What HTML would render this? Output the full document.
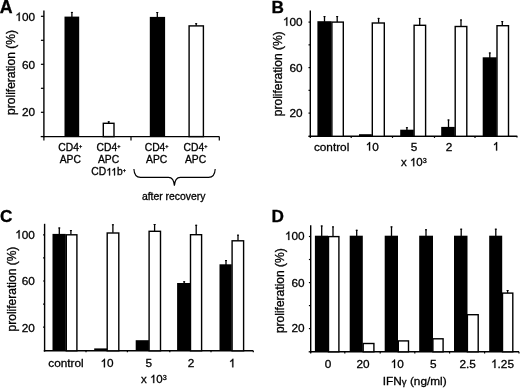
<!DOCTYPE html>
<html><head><meta charset="utf-8"><style>
html,body{margin:0;padding:0;background:#fff;width:520px;height:388px;overflow:hidden}
svg{display:block;will-change:transform}
text{font-family:"Liberation Sans",sans-serif;fill:#000;stroke:#000;stroke-width:0.3px}
.one{fill:none;stroke:none}
</style></head><body>
<svg width="520" height="388" viewBox="0 0 520 388">
<rect width="520" height="388" fill="#fff"/>
<g stroke="#000" fill="none" stroke-linecap="butt">
<line x1="43.90" y1="10.40" x2="43.90" y2="137.30" stroke-width="1.4"/>
<line x1="43.20" y1="136.60" x2="219.30" y2="136.60" stroke-width="1.4"/>
<line x1="40.90" y1="16.30" x2="43.90" y2="16.30" stroke-width="1.2"/>
<line x1="40.90" y1="40.30" x2="43.90" y2="40.30" stroke-width="1.2"/>
<line x1="40.90" y1="64.30" x2="43.90" y2="64.30" stroke-width="1.2"/>
<line x1="40.90" y1="88.30" x2="43.90" y2="88.30" stroke-width="1.2"/>
<line x1="40.90" y1="112.30" x2="43.90" y2="112.30" stroke-width="1.2"/>
<line x1="40.70" y1="136.60" x2="43.90" y2="136.60" stroke-width="1.3"/>
<line x1="43.90" y1="136.60" x2="43.90" y2="140.60" stroke-width="1.2"/>
<line x1="131.00" y1="136.60" x2="131.00" y2="140.60" stroke-width="1.2"/>
<line x1="219.30" y1="136.60" x2="219.30" y2="140.60" stroke-width="1.2"/>
<rect x="64.50" y="16.60" width="14.70" height="120.00" fill="#000" stroke="none"/>
<line x1="71.90" y1="17.30" x2="71.90" y2="11.90" stroke-width="1.3"/>
<line x1="70.90" y1="12.40" x2="72.90" y2="12.40" stroke-width="1.0"/>
<rect x="103.30" y="123.30" width="10.70" height="13.30" fill="#fff" stroke-width="1.4"/>
<line x1="108.70" y1="123.10" x2="108.70" y2="121.30" stroke-width="1.3"/>
<line x1="107.70" y1="121.80" x2="109.70" y2="121.80" stroke-width="1.0"/>
<rect x="149.80" y="16.90" width="15.30" height="119.70" fill="#000" stroke="none"/>
<line x1="157.30" y1="17.60" x2="157.30" y2="12.00" stroke-width="1.3"/>
<line x1="156.30" y1="12.50" x2="158.30" y2="12.50" stroke-width="1.0"/>
<rect x="189.10" y="25.90" width="14.30" height="110.70" fill="#fff" stroke-width="1.4"/>
<line x1="196.20" y1="25.70" x2="196.20" y2="23.20" stroke-width="1.3"/>
<line x1="195.20" y1="23.70" x2="197.20" y2="23.70" stroke-width="1.0"/>
<text x="35.0" y="21.0" font-size="11.8" text-anchor="end" font-weight="normal" ><tspan class="one">1</tspan>00</text>
<text x="35.0" y="68.5" font-size="11.8" text-anchor="end" font-weight="normal" >60</text>
<text x="35.0" y="116.2" font-size="11.8" text-anchor="end" font-weight="normal" >20</text>
<text x="0" y="0" font-size="11.5" text-anchor="middle" font-weight="normal" transform="translate(15.4,72.5) rotate(-90) scale(1.045,1.07)">proliferation (%)</text>
<line x1="310.30" y1="10.50" x2="310.30" y2="137.00" stroke-width="1.4"/>
<line x1="309.60" y1="136.30" x2="517.30" y2="136.30" stroke-width="1.4"/>
<line x1="308.50" y1="22.10" x2="310.30" y2="22.10" stroke-width="1.2"/>
<line x1="308.50" y1="44.85" x2="310.30" y2="44.85" stroke-width="1.2"/>
<line x1="308.50" y1="67.60" x2="310.30" y2="67.60" stroke-width="1.2"/>
<line x1="308.50" y1="90.35" x2="310.30" y2="90.35" stroke-width="1.2"/>
<line x1="308.50" y1="113.10" x2="310.30" y2="113.10" stroke-width="1.2"/>
<line x1="308.30" y1="136.30" x2="310.30" y2="136.30" stroke-width="1.3"/>
<line x1="310.30" y1="136.30" x2="310.30" y2="138.10" stroke-width="1.2"/>
<line x1="351.20" y1="136.30" x2="351.20" y2="137.90" stroke-width="1.2"/>
<line x1="392.50" y1="136.30" x2="392.50" y2="137.90" stroke-width="1.2"/>
<line x1="434.50" y1="136.30" x2="434.50" y2="137.90" stroke-width="1.2"/>
<line x1="475.00" y1="136.30" x2="475.00" y2="137.90" stroke-width="1.2"/>
<line x1="517.00" y1="136.30" x2="517.00" y2="137.50" stroke-width="1.2"/>
<rect x="317.40" y="21.20" width="14.00" height="115.10" fill="#000" stroke="none"/>
<line x1="324.50" y1="21.90" x2="324.50" y2="16.10" stroke-width="1.3"/>
<line x1="323.50" y1="16.60" x2="325.50" y2="16.60" stroke-width="1.0"/>
<rect x="331.90" y="22.10" width="11.40" height="114.20" fill="#fff" stroke-width="1.4"/>
<line x1="337.20" y1="21.90" x2="337.20" y2="16.10" stroke-width="1.3"/>
<line x1="336.20" y1="16.60" x2="338.20" y2="16.60" stroke-width="1.0"/>
<rect x="359.00" y="134.20" width="12.80" height="2.10" fill="#000" stroke="none"/>
<rect x="372.30" y="23.00" width="12.00" height="113.30" fill="#fff" stroke-width="1.4"/>
<line x1="378.60" y1="22.80" x2="378.60" y2="17.90" stroke-width="1.3"/>
<line x1="377.60" y1="18.40" x2="379.60" y2="18.40" stroke-width="1.0"/>
<rect x="400.20" y="129.70" width="13.60" height="6.60" fill="#000" stroke="none"/>
<line x1="406.90" y1="130.40" x2="406.90" y2="127.20" stroke-width="1.3"/>
<line x1="405.90" y1="127.70" x2="407.90" y2="127.70" stroke-width="1.0"/>
<rect x="414.10" y="25.30" width="11.50" height="111.00" fill="#fff" stroke-width="1.4"/>
<line x1="419.70" y1="25.10" x2="419.70" y2="17.90" stroke-width="1.3"/>
<line x1="418.70" y1="18.40" x2="420.70" y2="18.40" stroke-width="1.0"/>
<rect x="441.20" y="126.90" width="13.60" height="9.40" fill="#000" stroke="none"/>
<line x1="448.50" y1="127.60" x2="448.50" y2="119.50" stroke-width="1.3"/>
<line x1="447.50" y1="120.00" x2="449.50" y2="120.00" stroke-width="1.0"/>
<rect x="455.20" y="26.50" width="11.60" height="109.80" fill="#fff" stroke-width="1.4"/>
<line x1="461.00" y1="26.30" x2="461.00" y2="19.50" stroke-width="1.3"/>
<line x1="460.00" y1="20.00" x2="462.00" y2="20.00" stroke-width="1.0"/>
<rect x="482.70" y="57.30" width="14.00" height="79.00" fill="#000" stroke="none"/>
<line x1="489.80" y1="58.00" x2="489.80" y2="52.50" stroke-width="1.3"/>
<line x1="488.80" y1="53.00" x2="490.80" y2="53.00" stroke-width="1.0"/>
<rect x="497.00" y="25.70" width="11.50" height="110.60" fill="#fff" stroke-width="1.4"/>
<line x1="502.30" y1="25.50" x2="502.30" y2="21.10" stroke-width="1.3"/>
<line x1="501.30" y1="21.60" x2="503.30" y2="21.60" stroke-width="1.0"/>
<text x="302.6" y="25.7" font-size="11.8" text-anchor="end" font-weight="normal" ><tspan class="one">1</tspan>00</text>
<text x="302.6" y="71.7" font-size="11.8" text-anchor="end" font-weight="normal" >60</text>
<text x="302.6" y="117.1" font-size="11.8" text-anchor="end" font-weight="normal" >20</text>
<text x="0" y="0" font-size="11.5" text-anchor="middle" font-weight="normal" transform="translate(281.7,73.8) rotate(-90) scale(1.045,1.07)">proliferation (%)</text>
<line x1="44.60" y1="223.80" x2="44.60" y2="351.50" stroke-width="1.4"/>
<line x1="43.90" y1="350.80" x2="253.30" y2="350.80" stroke-width="1.4"/>
<line x1="43.10" y1="234.80" x2="44.60" y2="234.80" stroke-width="1.2"/>
<line x1="43.10" y1="257.90" x2="44.60" y2="257.90" stroke-width="1.2"/>
<line x1="43.10" y1="281.00" x2="44.60" y2="281.00" stroke-width="1.2"/>
<line x1="43.10" y1="304.10" x2="44.60" y2="304.10" stroke-width="1.2"/>
<line x1="43.10" y1="327.20" x2="44.60" y2="327.20" stroke-width="1.2"/>
<line x1="43.80" y1="350.80" x2="44.60" y2="350.80" stroke-width="1.3"/>
<line x1="86.00" y1="350.80" x2="86.00" y2="352.20" stroke-width="1.2"/>
<line x1="127.40" y1="350.80" x2="127.40" y2="352.20" stroke-width="1.2"/>
<line x1="169.80" y1="350.80" x2="169.80" y2="352.20" stroke-width="1.2"/>
<line x1="211.00" y1="350.80" x2="211.00" y2="352.20" stroke-width="1.2"/>
<line x1="253.30" y1="350.80" x2="253.30" y2="352.20" stroke-width="1.2"/>
<rect x="52.50" y="233.90" width="13.30" height="116.90" fill="#000" stroke="none"/>
<line x1="59.30" y1="234.60" x2="59.30" y2="227.50" stroke-width="1.3"/>
<line x1="58.30" y1="228.00" x2="60.30" y2="228.00" stroke-width="1.0"/>
<rect x="66.30" y="234.80" width="10.60" height="116.00" fill="#fff" stroke-width="1.4"/>
<line x1="70.90" y1="234.60" x2="70.90" y2="230.10" stroke-width="1.3"/>
<line x1="69.90" y1="230.60" x2="71.90" y2="230.60" stroke-width="1.0"/>
<rect x="94.20" y="348.40" width="12.80" height="2.40" fill="#000" stroke="none"/>
<rect x="107.20" y="233.00" width="11.60" height="117.80" fill="#fff" stroke-width="1.4"/>
<line x1="112.90" y1="232.80" x2="112.90" y2="224.30" stroke-width="1.3"/>
<line x1="111.90" y1="224.80" x2="113.90" y2="224.80" stroke-width="1.0"/>
<rect x="135.70" y="340.20" width="13.20" height="10.60" fill="#000" stroke="none"/>
<rect x="149.10" y="231.30" width="11.40" height="119.50" fill="#fff" stroke-width="1.4"/>
<line x1="154.60" y1="231.10" x2="154.60" y2="224.00" stroke-width="1.3"/>
<line x1="153.60" y1="224.50" x2="155.60" y2="224.50" stroke-width="1.0"/>
<rect x="177.10" y="283.00" width="13.40" height="67.80" fill="#000" stroke="none"/>
<line x1="184.20" y1="283.70" x2="184.20" y2="281.30" stroke-width="1.3"/>
<line x1="183.20" y1="281.80" x2="185.20" y2="281.80" stroke-width="1.0"/>
<rect x="190.50" y="234.70" width="11.10" height="116.10" fill="#fff" stroke-width="1.4"/>
<line x1="196.20" y1="234.50" x2="196.20" y2="224.80" stroke-width="1.3"/>
<line x1="195.20" y1="225.30" x2="197.20" y2="225.30" stroke-width="1.0"/>
<rect x="219.50" y="264.30" width="12.20" height="86.50" fill="#000" stroke="none"/>
<line x1="226.00" y1="265.00" x2="226.00" y2="260.10" stroke-width="1.3"/>
<line x1="225.00" y1="260.60" x2="227.00" y2="260.60" stroke-width="1.0"/>
<rect x="232.10" y="240.80" width="11.50" height="110.00" fill="#fff" stroke-width="1.4"/>
<line x1="238.00" y1="240.60" x2="238.00" y2="234.70" stroke-width="1.3"/>
<line x1="237.00" y1="235.20" x2="239.00" y2="235.20" stroke-width="1.0"/>
<text x="34.9" y="238.6" font-size="11.8" text-anchor="end" font-weight="normal" ><tspan class="one">1</tspan>00</text>
<text x="34.9" y="285.0" font-size="11.8" text-anchor="end" font-weight="normal" >60</text>
<text x="34.9" y="331.7" font-size="11.8" text-anchor="end" font-weight="normal" >20</text>
<text x="0" y="0" font-size="11.5" text-anchor="middle" font-weight="normal" transform="translate(15.8,289.05) rotate(-90) scale(1.045,1.07)">proliferation (%)</text>
<line x1="310.70" y1="225.20" x2="310.70" y2="352.50" stroke-width="1.4"/>
<line x1="310.00" y1="351.80" x2="519.00" y2="351.80" stroke-width="1.4"/>
<line x1="308.90" y1="236.50" x2="310.70" y2="236.50" stroke-width="1.2"/>
<line x1="308.90" y1="259.50" x2="310.70" y2="259.50" stroke-width="1.2"/>
<line x1="308.90" y1="282.60" x2="310.70" y2="282.60" stroke-width="1.2"/>
<line x1="308.90" y1="305.60" x2="310.70" y2="305.60" stroke-width="1.2"/>
<line x1="308.90" y1="328.60" x2="310.70" y2="328.60" stroke-width="1.2"/>
<line x1="308.70" y1="351.80" x2="310.70" y2="351.80" stroke-width="1.3"/>
<line x1="310.70" y1="351.80" x2="310.70" y2="353.60" stroke-width="1.2"/>
<line x1="344.80" y1="351.80" x2="344.80" y2="353.40" stroke-width="1.2"/>
<line x1="380.20" y1="351.80" x2="380.20" y2="353.40" stroke-width="1.2"/>
<line x1="414.80" y1="351.80" x2="414.80" y2="353.40" stroke-width="1.2"/>
<line x1="449.60" y1="351.80" x2="449.60" y2="353.40" stroke-width="1.2"/>
<line x1="484.60" y1="351.80" x2="484.60" y2="353.40" stroke-width="1.2"/>
<line x1="519.00" y1="351.80" x2="519.00" y2="353.40" stroke-width="1.2"/>
<rect x="314.90" y="235.70" width="13.10" height="116.10" fill="#000" stroke="none"/>
<line x1="321.70" y1="236.40" x2="321.70" y2="225.50" stroke-width="1.3"/>
<line x1="320.70" y1="226.00" x2="322.70" y2="226.00" stroke-width="1.0"/>
<rect x="328.50" y="236.60" width="10.40" height="115.20" fill="#fff" stroke-width="1.4"/>
<line x1="333.00" y1="236.40" x2="333.00" y2="226.40" stroke-width="1.3"/>
<line x1="332.00" y1="226.90" x2="334.00" y2="226.90" stroke-width="1.0"/>
<rect x="349.70" y="235.70" width="13.10" height="116.10" fill="#000" stroke="none"/>
<line x1="356.70" y1="236.40" x2="356.70" y2="229.80" stroke-width="1.3"/>
<line x1="355.70" y1="230.30" x2="357.70" y2="230.30" stroke-width="1.0"/>
<rect x="363.20" y="343.50" width="10.70" height="8.30" fill="#fff" stroke-width="1.4"/>
<rect x="384.70" y="235.70" width="13.30" height="116.10" fill="#000" stroke="none"/>
<line x1="391.50" y1="236.40" x2="391.50" y2="226.40" stroke-width="1.3"/>
<line x1="390.50" y1="226.90" x2="392.50" y2="226.90" stroke-width="1.0"/>
<rect x="398.30" y="340.90" width="10.20" height="10.90" fill="#fff" stroke-width="1.4"/>
<rect x="419.20" y="235.70" width="13.80" height="116.10" fill="#000" stroke="none"/>
<line x1="426.00" y1="236.40" x2="426.00" y2="229.30" stroke-width="1.3"/>
<line x1="425.00" y1="229.80" x2="427.00" y2="229.80" stroke-width="1.0"/>
<rect x="432.90" y="338.80" width="10.20" height="13.00" fill="#fff" stroke-width="1.4"/>
<rect x="454.00" y="235.70" width="13.50" height="116.10" fill="#000" stroke="none"/>
<line x1="461.20" y1="236.40" x2="461.20" y2="228.70" stroke-width="1.3"/>
<line x1="460.20" y1="229.20" x2="462.20" y2="229.20" stroke-width="1.0"/>
<rect x="467.40" y="314.70" width="10.80" height="37.10" fill="#fff" stroke-width="1.4"/>
<rect x="489.20" y="235.70" width="13.00" height="116.10" fill="#000" stroke="none"/>
<line x1="495.80" y1="236.40" x2="495.80" y2="228.70" stroke-width="1.3"/>
<line x1="494.80" y1="229.20" x2="496.80" y2="229.20" stroke-width="1.0"/>
<rect x="502.50" y="293.10" width="10.30" height="58.70" fill="#fff" stroke-width="1.4"/>
<line x1="507.60" y1="292.90" x2="507.60" y2="290.00" stroke-width="1.3"/>
<line x1="506.60" y1="290.50" x2="508.60" y2="290.50" stroke-width="1.0"/>
<text x="304.6" y="240.0" font-size="11.8" text-anchor="end" font-weight="normal" ><tspan class="one">1</tspan>00</text>
<text x="304.6" y="286.7" font-size="11.8" text-anchor="end" font-weight="normal" >60</text>
<text x="304.6" y="332.3" font-size="11.8" text-anchor="end" font-weight="normal" >20</text>
<text x="0" y="0" font-size="11.5" text-anchor="middle" font-weight="normal" transform="translate(284.1,290.7) rotate(-90) scale(1.045,1.07)">proliferation (%)</text>
<text x="-0.3" y="12.6" font-size="17.8" text-anchor="start" font-weight="bold" >A</text>
<text x="271.4" y="12.7" font-size="17.2" text-anchor="start" font-weight="bold" >B</text>
<text x="0.0" y="222.2" font-size="17.2" text-anchor="start" font-weight="bold" >C</text>
<text x="271.4" y="222.2" font-size="17.2" text-anchor="start" font-weight="bold" >D</text>
<text x="70.25" y="151.3" font-size="10.3" text-anchor="middle" font-weight="normal" >CD4<tspan font-size="5.6" dy="-3.1">+</tspan></text>
<text x="70.25" y="163.3" font-size="10.3" text-anchor="middle" font-weight="normal" >APC</text>
<text x="108.5" y="151.3" font-size="10.3" text-anchor="middle" font-weight="normal" >CD4<tspan font-size="5.6" dy="-3.1">+</tspan></text>
<text x="108.5" y="163.3" font-size="10.3" text-anchor="middle" font-weight="normal" >APC</text>
<text x="156.7" y="151.3" font-size="10.3" text-anchor="middle" font-weight="normal" >CD4<tspan font-size="5.6" dy="-3.1">+</tspan></text>
<text x="156.7" y="163.3" font-size="10.3" text-anchor="middle" font-weight="normal" >APC</text>
<text x="195.5" y="151.3" font-size="10.3" text-anchor="middle" font-weight="normal" >CD4<tspan font-size="5.6" dy="-3.1">+</tspan></text>
<text x="195.5" y="163.3" font-size="10.3" text-anchor="middle" font-weight="normal" >APC</text>
<text x="108.65" y="175.4" font-size="10.3" text-anchor="middle" font-weight="normal" >CD<tspan class="one">11</tspan>b<tspan font-size="5.6" dy="-3.1">+</tspan></text>
<path d="M133.9,169 C134.2,174.8 136.2,177.4 140.5,177.4 L168.5,177.4 C172,177.4 174,180 174.4,185.8 C174.8,180 176.8,177.4 180.3,177.4 L208.6,177.4 C212.9,177.4 214.9,174.8 215.2,169" fill="none" stroke-width="1.15"/>
<text x="173.7" y="199.6" font-size="10.4" text-anchor="middle" font-weight="normal" >after recovery</text>
<text x="331.6" y="150.6" font-size="11.8" text-anchor="middle" font-weight="normal" >control</text>
<text x="372.25" y="150.6" font-size="11.8" text-anchor="middle" font-weight="normal" ><tspan class="one">1</tspan>0</text>
<text x="414" y="150.6" font-size="11.8" text-anchor="middle" font-weight="normal" >5</text>
<text x="449" y="150.6" font-size="11.8" text-anchor="middle" font-weight="normal" >2</text>
<text x="496" y="150.6" font-size="11.8" text-anchor="middle" font-weight="normal" ><tspan class="one">1</tspan></text>
<text x="401.0" y="166.2" font-size="11.5" text-anchor="start" font-weight="normal" >x <tspan class="one">1</tspan>0<tspan font-size="7.2" dy="-2.9">3</tspan></text>
<text x="66" y="367.3" font-size="11.8" text-anchor="middle" font-weight="normal" >control</text>
<text x="107.1" y="367.3" font-size="11.8" text-anchor="middle" font-weight="normal" ><tspan class="one">1</tspan>0</text>
<text x="148.9" y="367.3" font-size="11.8" text-anchor="middle" font-weight="normal" >5</text>
<text x="191.1" y="367.3" font-size="11.8" text-anchor="middle" font-weight="normal" >2</text>
<text x="232.2" y="367.3" font-size="11.8" text-anchor="middle" font-weight="normal" ><tspan class="one">1</tspan></text>
<text x="141.0" y="383.1" font-size="11.5" text-anchor="start" font-weight="normal" >x <tspan class="one">1</tspan>0<tspan font-size="7.2" dy="-2.9">3</tspan></text>
<text x="328" y="368.0" font-size="11.8" text-anchor="middle" font-weight="normal" >0</text>
<text x="363.1" y="368.0" font-size="11.8" text-anchor="middle" font-weight="normal" >20</text>
<text x="397.2" y="368.0" font-size="11.8" text-anchor="middle" font-weight="normal" ><tspan class="one">1</tspan>0</text>
<text x="433.2" y="368.0" font-size="11.8" text-anchor="middle" font-weight="normal" >5</text>
<text x="467.6" y="368.0" font-size="11.8" text-anchor="middle" font-weight="normal" >2.5</text>
<text x="502.5" y="368.0" font-size="11.8" text-anchor="middle" font-weight="normal" ><tspan class="one">1</tspan>.25</text>
<text x="414.7" y="384.9" font-size="11.8" text-anchor="middle" font-weight="normal" >IFN<tspan font-size="9.6">&#947;</tspan> (ng/ml)</text>
</g>
<g id="ones" fill="#000" stroke="#000" stroke-width="0.3"><path transform="translate(15.31,21.00) scale(0.005762,-0.005762)" vector-effect="non-scaling-stroke" d="M763,0L583,0L583,1147C540,1106 484,1065 414,1024C344,983 280,952 223,930L223,1104C321,1150 407,1206 480,1271C553,1336 605,1403 636,1472L763,1472Z"/>
<path transform="translate(282.91,25.70) scale(0.005762,-0.005762)" vector-effect="non-scaling-stroke" d="M763,0L583,0L583,1147C540,1106 484,1065 414,1024C344,983 280,952 223,930L223,1104C321,1150 407,1206 480,1271C553,1336 605,1403 636,1472L763,1472Z"/>
<path transform="translate(15.21,238.60) scale(0.005762,-0.005762)" vector-effect="non-scaling-stroke" d="M763,0L583,0L583,1147C540,1106 484,1065 414,1024C344,983 280,952 223,930L223,1104C321,1150 407,1206 480,1271C553,1336 605,1403 636,1472L763,1472Z"/>
<path transform="translate(284.91,240.00) scale(0.005762,-0.005762)" vector-effect="non-scaling-stroke" d="M763,0L583,0L583,1147C540,1106 484,1065 414,1024C344,983 280,952 223,930L223,1104C321,1150 407,1206 480,1271C553,1336 605,1403 636,1472L763,1472Z"/>
<path transform="translate(106.23,175.40) scale(0.005029,-0.005029)" vector-effect="non-scaling-stroke" d="M763,0L583,0L583,1147C540,1106 484,1065 414,1024C344,983 280,952 223,930L223,1104C321,1150 407,1206 480,1271C553,1336 605,1403 636,1472L763,1472Z"/>
<path transform="translate(111.18,175.40) scale(0.005029,-0.005029)" vector-effect="non-scaling-stroke" d="M763,0L583,0L583,1147C540,1106 484,1065 414,1024C344,983 280,952 223,930L223,1104C321,1150 407,1206 480,1271C553,1336 605,1403 636,1472L763,1472Z"/>
<path transform="translate(365.69,150.60) scale(0.005762,-0.005762)" vector-effect="non-scaling-stroke" d="M763,0L583,0L583,1147C540,1106 484,1065 414,1024C344,983 280,952 223,930L223,1104C321,1150 407,1206 480,1271C553,1336 605,1403 636,1472L763,1472Z"/>
<path transform="translate(492.72,150.60) scale(0.005762,-0.005762)" vector-effect="non-scaling-stroke" d="M763,0L583,0L583,1147C540,1106 484,1065 414,1024C344,983 280,952 223,930L223,1104C321,1150 407,1206 480,1271C553,1336 605,1403 636,1472L763,1472Z"/>
<path transform="translate(409.95,166.20) scale(0.005615,-0.005615)" vector-effect="non-scaling-stroke" d="M763,0L583,0L583,1147C540,1106 484,1065 414,1024C344,983 280,952 223,930L223,1104C321,1150 407,1206 480,1271C553,1336 605,1403 636,1472L763,1472Z"/>
<path transform="translate(100.54,367.30) scale(0.005762,-0.005762)" vector-effect="non-scaling-stroke" d="M763,0L583,0L583,1147C540,1106 484,1065 414,1024C344,983 280,952 223,930L223,1104C321,1150 407,1206 480,1271C553,1336 605,1403 636,1472L763,1472Z"/>
<path transform="translate(228.92,367.30) scale(0.005762,-0.005762)" vector-effect="non-scaling-stroke" d="M763,0L583,0L583,1147C540,1106 484,1065 414,1024C344,983 280,952 223,930L223,1104C321,1150 407,1206 480,1271C553,1336 605,1403 636,1472L763,1472Z"/>
<path transform="translate(149.95,383.10) scale(0.005615,-0.005615)" vector-effect="non-scaling-stroke" d="M763,0L583,0L583,1147C540,1106 484,1065 414,1024C344,983 280,952 223,930L223,1104C321,1150 407,1206 480,1271C553,1336 605,1403 636,1472L763,1472Z"/>
<path transform="translate(390.64,368.00) scale(0.005762,-0.005762)" vector-effect="non-scaling-stroke" d="M763,0L583,0L583,1147C540,1106 484,1065 414,1024C344,983 280,952 223,930L223,1104C321,1150 407,1206 480,1271C553,1336 605,1403 636,1472L763,1472Z"/>
<path transform="translate(491.02,368.00) scale(0.005762,-0.005762)" vector-effect="non-scaling-stroke" d="M763,0L583,0L583,1147C540,1106 484,1065 414,1024C344,983 280,952 223,930L223,1104C321,1150 407,1206 480,1271C553,1336 605,1403 636,1472L763,1472Z"/></g>
</svg>
</body></html>
